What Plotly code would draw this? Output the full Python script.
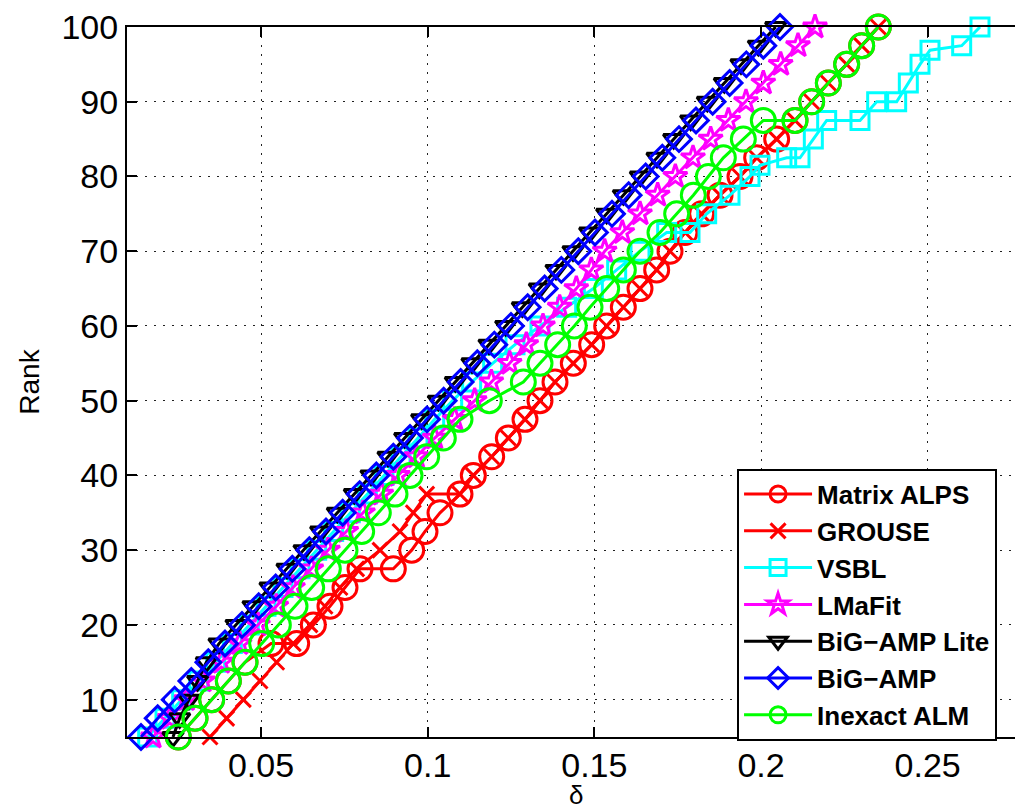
import plotly.graph_objects as go

# Phase-transition curves: sampling ratio delta (x) versus rank (y)
rank_std = [5, 7.5, 10, 12.5, 15, 17.5, 20, 22.5, 25, 27.5, 30, 32.5, 35, 37.5,
            40, 42.5, 45, 47.5, 50, 52.5, 55, 57.5, 60, 62.5, 65, 67.5, 70, 72.5,
            75, 77.5, 80, 82.5, 85, 87.5, 90, 92.5, 95, 97.5, 100]

alps_rank = [5, 7.5, 10, 12.5, 15, 17.5, 17.5, 20, 22.5, 25, 27.5, 27.5, 30, 32.5, 35,
             37.5, 40, 42.5, 45, 47.5, 50, 52.5, 55, 57.5, 60, 62.5, 65, 67.5, 70,
             72.5, 75, 77.5, 80, 82.5, 85, 87.5, 90, 92.5, 95, 97.5, 100]
alps_delta = [0.0252, 0.0302, 0.0352, 0.0402, 0.0452, 0.0530, 0.0607, 0.0657, 0.0707,
              0.0752, 0.0797, 0.0897, 0.0952, 0.0992, 0.1037, 0.1097, 0.1137, 0.1192,
              0.1242, 0.1292, 0.1337, 0.1382, 0.1437, 0.1492, 0.1537, 0.1587, 0.1637,
              0.1687, 0.1727, 0.1772, 0.1822, 0.1877, 0.1937, 0.1987, 0.2047, 0.2102,
              0.2152, 0.2202, 0.2257, 0.2302, 0.2352]

grouse_rank = [5, 7.5, 10, 12.5, 15, 17.5, 20, 22.5, 25, 27.5, 30, 32.5, 35, 37.5,
               37.5, 40, 42.5, 45, 47.5, 50, 52.5, 55, 57.5, 60, 62.5, 65, 67.5, 70,
               72.5, 75, 77.5, 80, 82.5, 85, 87.5, 90, 92.5, 95, 97.5, 100]
grouse_delta = [0.0347, 0.0397, 0.0447, 0.0497, 0.0547, 0.0597, 0.0647, 0.0692, 0.0737,
                0.0787, 0.0857, 0.0917, 0.0957, 0.0997, 0.1097, 0.1137, 0.1192, 0.1242,
                0.1292, 0.1337, 0.1382, 0.1437, 0.1492, 0.1537, 0.1587, 0.1637, 0.1687,
                0.1727, 0.1772, 0.1822, 0.1877, 0.1937, 0.1987, 0.2047, 0.2102, 0.2152,
                0.2202, 0.2257, 0.2302, 0.2352]

vsbl_rank = [5, 7.5, 10, 12.5, 15, 17.5, 20, 22.5, 25, 27.5, 30, 32.5, 35, 37.5, 40,
             42.5, 45, 47.5, 50, 52.5, 55, 57.5, 60, 62.5, 65, 67.5, 70, 72.5, 72.5,
             75, 77.5, 80, 81.5, 82.5, 82.5, 85, 87.5, 87.5, 90, 90, 92.5, 95, 96.9,
             97.5, 100]
vsbl_delta = [0.0160, 0.0212, 0.0262, 0.0313, 0.0364, 0.0414, 0.0465, 0.0515, 0.0566,
              0.0617, 0.0667, 0.0718, 0.0768, 0.0819, 0.0869, 0.0920, 0.0971, 0.1021,
              0.1075, 0.1132, 0.1195, 0.1262, 0.1337, 0.1417, 0.1497, 0.1567, 0.1637,
              0.1717, 0.1787, 0.1837, 0.1907, 0.1967, 0.1997, 0.2077, 0.2117, 0.2157,
              0.2197, 0.2297, 0.2347, 0.2407, 0.2442, 0.2477, 0.2507, 0.2602, 0.2657]

lmafit_delta = [0.0176, 0.0226, 0.0276, 0.0326, 0.0381, 0.0436, 0.0491, 0.0546, 0.0596,
                0.0651, 0.0701, 0.0756, 0.0806, 0.0861, 0.0911, 0.0966, 0.1021, 0.1081,
                0.1141, 0.1191, 0.1246, 0.1296, 0.1346, 0.1396, 0.1446, 0.1491, 0.1531,
                0.1584, 0.1637, 0.1690, 0.1743, 0.1796, 0.1849, 0.1902, 0.1955, 0.2007,
                0.2059, 0.2111, 0.2162]

lite_delta = [0.0236, 0.0256, 0.0284, 0.0310, 0.0336, 0.0374, 0.0425, 0.0476, 0.0527,
              0.0578, 0.0629, 0.0679, 0.0729, 0.0780, 0.0830, 0.0881, 0.0931, 0.0982,
              0.1032, 0.1083, 0.1133, 0.1184, 0.1234, 0.1284, 0.1335, 0.1385, 0.1436,
              0.1486, 0.1537, 0.1587, 0.1638, 0.1688, 0.1738, 0.1789, 0.1839, 0.1890,
              0.1940, 0.1992, 0.2044]

bigamp_delta = [0.0140, 0.0190, 0.0241, 0.0291, 0.0342, 0.0392, 0.0443, 0.0493, 0.0544,
                0.0594, 0.0645, 0.0695, 0.0745, 0.0796, 0.0846, 0.0897, 0.0947, 0.0998,
                0.1048, 0.1099, 0.1149, 0.1200, 0.1250, 0.1300, 0.1351, 0.1401, 0.1452,
                0.1502, 0.1553, 0.1603, 0.1654, 0.1704, 0.1754, 0.1805, 0.1855, 0.1906,
                0.1956, 0.2007, 0.2057]

ialm_rank = [5, 7.5, 10, 12.5, 15, 17.5, 20, 22.5, 25, 27.5, 30, 32.5, 35, 37.5, 40,
             42.5, 45, 47.5, 50, 52.5, 55, 57.5, 60, 62.5, 65, 67.5, 70, 72.5, 75,
             77.5, 80, 82.5, 85, 87.5, 87.5, 90, 92.5, 95, 97.5, 100]
ialm_delta = [0.0252, 0.0302, 0.0352, 0.0402, 0.0452, 0.0502, 0.0552, 0.0602, 0.0652,
              0.0702, 0.0752, 0.0802, 0.0852, 0.0902, 0.0947, 0.0997, 0.1047, 0.1097,
              0.1185, 0.1287, 0.1337, 0.1390, 0.1440, 0.1487, 0.1537, 0.1587, 0.1637,
              0.1697, 0.1747, 0.1797, 0.1842, 0.1887, 0.1947, 0.2007, 0.2102, 0.2152,
              0.2202, 0.2257, 0.2302, 0.2352]

x_ticks = [0.05, 0.1, 0.15, 0.2, 0.25]
x_tick_text = ["0.05", "0.1", "0.15", "0.2", "0.25"]
y_ticks = [10, 20, 30, 40, 50, 60, 70, 80, 90, 100]

series = [
    ("Matrix ALPS", alps_delta, alps_rank, "#ff0000", "circle-open", 24),
    ("GROUSE", grouse_delta, grouse_rank, "#ff0000", "x-thin-open", 15),
    ("VSBL", vsbl_delta, vsbl_rank, "#00ffff", "square-open", 18),
    ("LMaFit", lmafit_delta, rank_std, "#ff00ff", "star-open", 18),
    ("BiG\u2212AMP Lite", lite_delta, rank_std, "#000000", "triangle-down-open", 18),
    ("BiG\u2212AMP", bigamp_delta, rank_std, "#0000ff", "diamond-open", 19),
    ("Inexact ALM", ialm_delta, ialm_rank, "#00ff00", "circle-open", 24),
]

fig = go.Figure()
for name, xs, ys, color, symbol, size in series:
    fig.add_trace(go.Scatter(
        x=xs, y=ys, name=name, mode="lines+markers", cliponaxis=False,
        line=dict(color=color, width=3),
        marker=dict(symbol=symbol, size=size, color=color,
                    line=dict(color=color, width=3)),
    ))

axis_font = dict(family="Liberation Sans, Arial, sans-serif", size=34, color="black")
grid_dash = "2px,7px"

fig.update_layout(
    width=1015, height=811,
    margin=dict(l=127, r=0, t=27, b=74),
    paper_bgcolor="white", plot_bgcolor="white",
    font=axis_font,
    showlegend=True,
    legend=dict(
        x=0.687, y=0.378, xanchor="left", yanchor="top",
        bgcolor="white", bordercolor="black", borderwidth=2,
        font=dict(family="Liberation Sans, Arial, sans-serif", size=26, color="black",
                  weight="bold"),
        itemwidth=68, tracegroupgap=0,
    ),
    annotations=[dict(
        text="\u03b4", xref="paper", yref="paper", x=0.506, y=-0.104,
        xanchor="center", yanchor="bottom", showarrow=False, borderpad=0,
        font=dict(family="Liberation Sans, Arial, sans-serif", size=26, color="black"),
    )],
)
fig.update_xaxes(
    range=[0.0098, 0.2762], tickvals=x_ticks, ticktext=x_tick_text,
    showline=True, linecolor="black", linewidth=2, mirror="ticks",
    ticks="inside", ticklen=10, tickwidth=1.5, tickcolor="black",
    ticklabelstandoff=-3,
    showgrid=True, gridcolor="#222222", griddash=grid_dash, gridwidth=1,
    zeroline=False, tickfont=axis_font, automargin=False,
)
fig.update_yaxes(
    range=[5, 100], tickvals=y_ticks,
    showline=True, linecolor="black", linewidth=2, mirror=False,
    ticks="inside", ticklen=10, tickwidth=1.5, tickcolor="black",
    showgrid=True, gridcolor="#222222", griddash=grid_dash, gridwidth=1,
    zeroline=False, tickfont=axis_font, automargin=False,
    title=dict(text="Rank", font=dict(size=28), standoff=14),
)

fig.write_html("out.html")
